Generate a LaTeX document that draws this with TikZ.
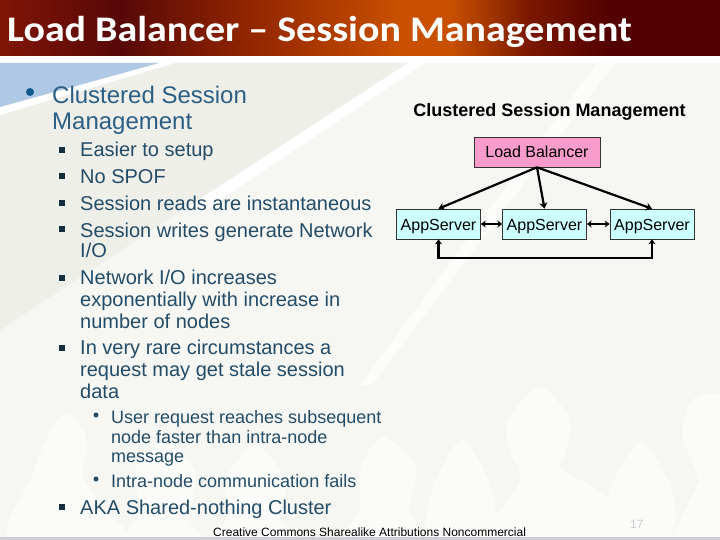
\documentclass[tikz,border=0pt]{standalone}
\usepackage{fontspec}
\setmainfont{Liberation Sans}
\newfontfamily\titlefont[FakeStretch=1.11]{Carlito}
\usetikzlibrary{arrows.meta,calc}
\definecolor{bgc}{HTML}{F6F6F2}
\definecolor{beige}{HTML}{EFEFE9}
\definecolor{silh}{HTML}{FBFBF9}
\definecolor{bigt}{HTML}{2B5F85}
\definecolor{tealt}{HTML}{234C68}
\definecolor{bluetri}{HTML}{AFC8E4}
\definecolor{bulletb}{HTML}{10598F}
\definecolor{pinkb}{HTML}{F99CCB}
\definecolor{cyanb}{HTML}{CCFFFF}
\definecolor{hA}{HTML}{801505}
\definecolor{hB}{HTML}{580808}
\definecolor{hC}{HTML}{962800}
\definecolor{hD}{HTML}{C85000}
\definecolor{hE}{HTML}{7A1800}
\definecolor{hF}{HTML}{520000}
\tikzset{
 body/.style={anchor=base west,inner sep=0pt,text=tealt,font=\fontsize{20}{24}\selectfont},
 big/.style={anchor=base west,inner sep=0pt,text=bigt,font=\fontsize{24}{28}\selectfont},
 small/.style={anchor=base west,inner sep=0pt,text=tealt,font=\fontsize{18}{22}\selectfont},
 sq/.style={fill=black!40!tealt,minimum size=6pt,inner sep=0pt},
 dot/.style={circle,fill=tealt,inner sep=0pt},
 box/.style={draw=black!80,line width=0.6pt,inner sep=0pt,font=\fontsize{16}{19}\selectfont,text=black},
 conn/.style={draw=black,line width=2.2pt,{Stealth[length=5pt,width=7pt]}-{Stealth[length=5pt,width=7pt]}},
 oneway/.style={draw=black,line width=2.2pt,-{Stealth[length=6pt,width=8pt]}},
 silhouette/.style={fill=silh}
}
\begin{document}
\begin{tikzpicture}[x=1pt,y=-1pt]
\useasboundingbox (0,0) rectangle (720,540);
% background
\fill[white] (0,0) rectangle (720,540);
\fill[bgc] (0,63) rectangle (720,537);
\fill[beige] (175,63) -- (408,63) -- (190,205) -- (0,330) -- (0,115) -- cycle;
\fill[white] (408,63) -- (425,63) -- (205,210) -- (188,207) -- cycle;
\fill[white!70!bgc] (597,63) -- (615,63) -- (372,385) -- (360,385) -- cycle;
\fill[white] (159,63) -- (175,63) -- (0,115) -- (0,107) -- cycle;
\fill[bluetri] (0,63) -- (159,63) -- (0,107) -- cycle;
% silhouettes
\fill[silhouette] plot[smooth cycle] coordinates {(46,440) (66,413) (87,440) (84,480) (125,530) (125,537) (10,537) (30,480)};
\fill[silhouette] plot[smooth cycle] coordinates {(135,470) (165,443) (195,470) (190,520) (200,537) (130,537) (140,510)};
\fill[silhouette] plot[smooth cycle] coordinates {(225,480) (255,445) (285,480) (280,520) (295,537) (215,537) (230,515)};
\fill[silhouette] plot[smooth cycle] coordinates {(360,470) (382,437) (415,465) (410,510) (420,537) (345,537) (360,510)};
\fill[silhouette] plot[smooth cycle] coordinates {(432,490) (462,440) (492,490) (490,537) (430,537)};
\fill[silhouette] plot[smooth cycle] coordinates {(508,420) (540,387) (570,420) (565,455) (562,470) (607,497) (612,537) (490,537) (493,520) (520,480) (510,450)};
\fill[silhouette] plot[smooth cycle] coordinates {(610,490) (640,443) (672,490) (670,537) (610,537)};
\fill[silhouette] (683,430) .. controls (683,405) and (695,393) .. (708,393) -- (720,393) -- (720,537) -- (672,537) -- (700,480) -- (683,440) -- cycle;
\fill[black!5!blue!10!gray!35] (0,537) rectangle (720,540);
% header
\fill[left color=hA,right color=hB] (0,0) rectangle (120,56);
\fill[left color=hB,right color=hC] (120,0) rectangle (260,56);
\fill[left color=hC,right color=hD] (260,0) rectangle (400,56);
\fill[hD] (400,0) rectangle (450,56);
\fill[left color=hD,right color=hE] (450,0) rectangle (530,56);
\fill[left color=hE,right color=hF] (530,0) rectangle (610,56);
\fill[hF] (610,0) rectangle (720,56);
\node[anchor=base west,inner sep=0pt,text=white,font=\titlefont\bfseries\fontsize{36}{42}\selectfont] (title) at (7,42) {Load Balancer – Session Management};
% text
\node[dot,fill=bulletb,minimum size=8pt] (b0) at (30,92) {};
\node[big] (t1) at (52,104) {Clustered Session};
\node[big] (t2) at (52,130) {Management};
\foreach \n/\y in {s1/150,s2/176,s3/203,s4/229,s5/278,s6/348,s7/507}
  \node[sq] (\n) at (62,\y) {};
\node[body] (a1) at (80,157) {Easier to setup};
\node[body] (a2) at (80,184) {No SPOF};
\node[body] (a3) at (80,211) {Session reads are instantaneous};
\node[body] (a4) at (80,237) {Session writes generate Network};
\node[body] (a5) at (80,258) {I/O};
\node[body] (a6) at (80,284) {Network I/O increases};
\node[body] (a7) at (80,306) {exponentially with increase in};
\node[body] (a8) at (80,328) {number of nodes};
\node[body] (a9) at (80,354) {In very rare circumstances a};
\node[body] (a10) at (80,376) {request may get stale session};
\node[body] (a11) at (80,398) {data};
\node[dot,minimum size=5pt] (b1) at (96,415) {};
\node[dot,minimum size=5pt] (b2) at (96,479) {};
\node[small] (c1) at (111,423) {User request reaches subsequent};
\node[small] (c2) at (111,443) {node faster than intra-node};
\node[small] (c3) at (111,462) {message};
\node[small] (c4) at (111,487) {Intra-node communication fails};
\node[body] (a12) at (80,514) {AKA Shared-nothing Cluster};
\node[anchor=base west,inner sep=0pt,text=black,font=\fontsize{12}{14}\selectfont] (cc) at (213,536) {Creative Commons Sharealike Attributions Noncommercial};
\node[anchor=base west,inner sep=0pt,text=black!20,font=\fontsize{12}{14}\selectfont] (pg) at (630,528) {17};
% diagram
\node[anchor=base,inner sep=0pt,text=black,font=\bfseries\fontsize{18}{22}\selectfont] (dt) at (549.5,117) {Clustered Session Management};
\node[box,fill=pinkb,minimum width=126pt,minimum height=30pt] (lb) at (537,152) {\raisebox{-6pt}[0pt][0pt]{Load Balancer}};
\node[box,fill=cyanb,minimum width=84pt,minimum height=30pt] (app1) at (438.5,224) {\raisebox{-6.5pt}[0pt][0pt]{AppServer}};
\node[box,fill=cyanb,minimum width=84pt,minimum height=30pt] (app2) at (544.5,224) {\raisebox{-6.5pt}[0pt][0pt]{AppServer}};
\node[box,fill=cyanb,minimum width=84pt,minimum height=30pt] (app3) at (652,224) {\raisebox{-6.5pt}[0pt][0pt]{AppServer}};
\draw[oneway] (lb.south) -- (app1.north);
\draw[oneway] (lb.south) -- (app2.north);
\draw[oneway] (lb.south) -- (app3.north);
\draw[conn] (app1) -- (app2);
\draw[conn] (app2) -- (app3);
\draw[conn] (app1.south) -- ++(0,19) -| (app3.south);
\end{tikzpicture}
\end{document}
